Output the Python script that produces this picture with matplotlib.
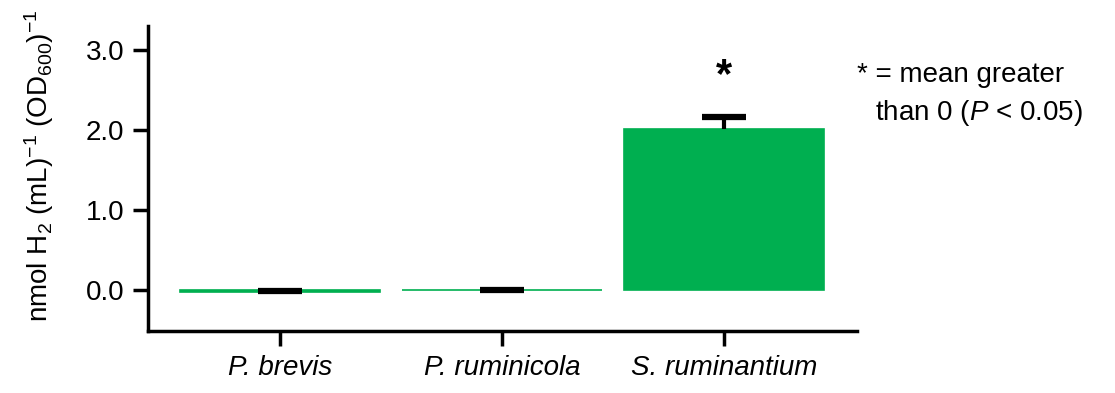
import matplotlib

matplotlib.use("Agg")

import matplotlib.pyplot as plt
import numpy as np

plt.rcParams.update(
    {
        "font.family": ["Liberation Sans", "DejaVu Sans"],
        "font.size": 20,
        "mathtext.fontset": "custom",
        "mathtext.rm": "Liberation Sans",
        "mathtext.it": "Liberation Sans:italic",
        "mathtext.bf": "Liberation Sans:bold",
    }
)

species = ["P. brevis", "P. ruminicola", "S. ruminantium"]
means = [-0.02, -0.003, 2.01]
errors = [0.005, 0.0, 0.15]
significant = [False, False, True]
yticks = [0.0, 1.0, 2.0, 3.0]

green = "#00AF50"

fig = plt.figure(figsize=(11.15, 3.93), dpi=100)
ax = fig.add_axes([0.1327, 0.1578, 0.6359, 0.776])

x = np.arange(len(species))
m = np.array(means)
e = np.array(errors)
ax.bar(x, m, width=0.9, color=green, edgecolor=green, linewidth=1.2, zorder=2)
# one-sided error bars: stem plus upper cap only
ax.vlines(x, m, m + e, color="black", linewidth=3, zorder=3)
ax.hlines(m + e, x - 0.099, x + 0.099, color="black", linewidth=4.5, zorder=3)

for xi, top, sig in zip(x, m + e, significant):
    if sig:
        ax.text(xi, top + 0.52, "*", ha="center", va="center",
                fontsize=30, fontweight="bold")

ax.set_xlim(-0.595, 2.6)
ax.set_ylim(-0.51, 3.3)
ax.set_xticks(x)
ax.set_xticklabels(species, style="italic")
ax.set_yticks(yticks)
ax.set_yticklabels([f"{v:.1f}" for v in yticks])
ax.set_ylabel(r"nmol H$_2$ (mL)$^{-1}$ (OD$_{600}$)$^{-1}$", fontsize=20)
ax.yaxis.set_label_coords(-0.13, 0.54)

for side in ["top", "right"]:
    ax.spines[side].set_visible(False)
for side in ["left", "bottom"]:
    ax.spines[side].set_linewidth(2.5)
ax.tick_params(axis="both", direction="out", length=11, width=2.5, pad=6)

fig.text(0.769, 0.809, "* = mean greater", fontsize=20, va="center")
fig.text(0.785, 0.7125, r"than 0 ($\it{P}$ < 0.05)", fontsize=20, va="center")

fig.savefig("out.png", dpi=100)
